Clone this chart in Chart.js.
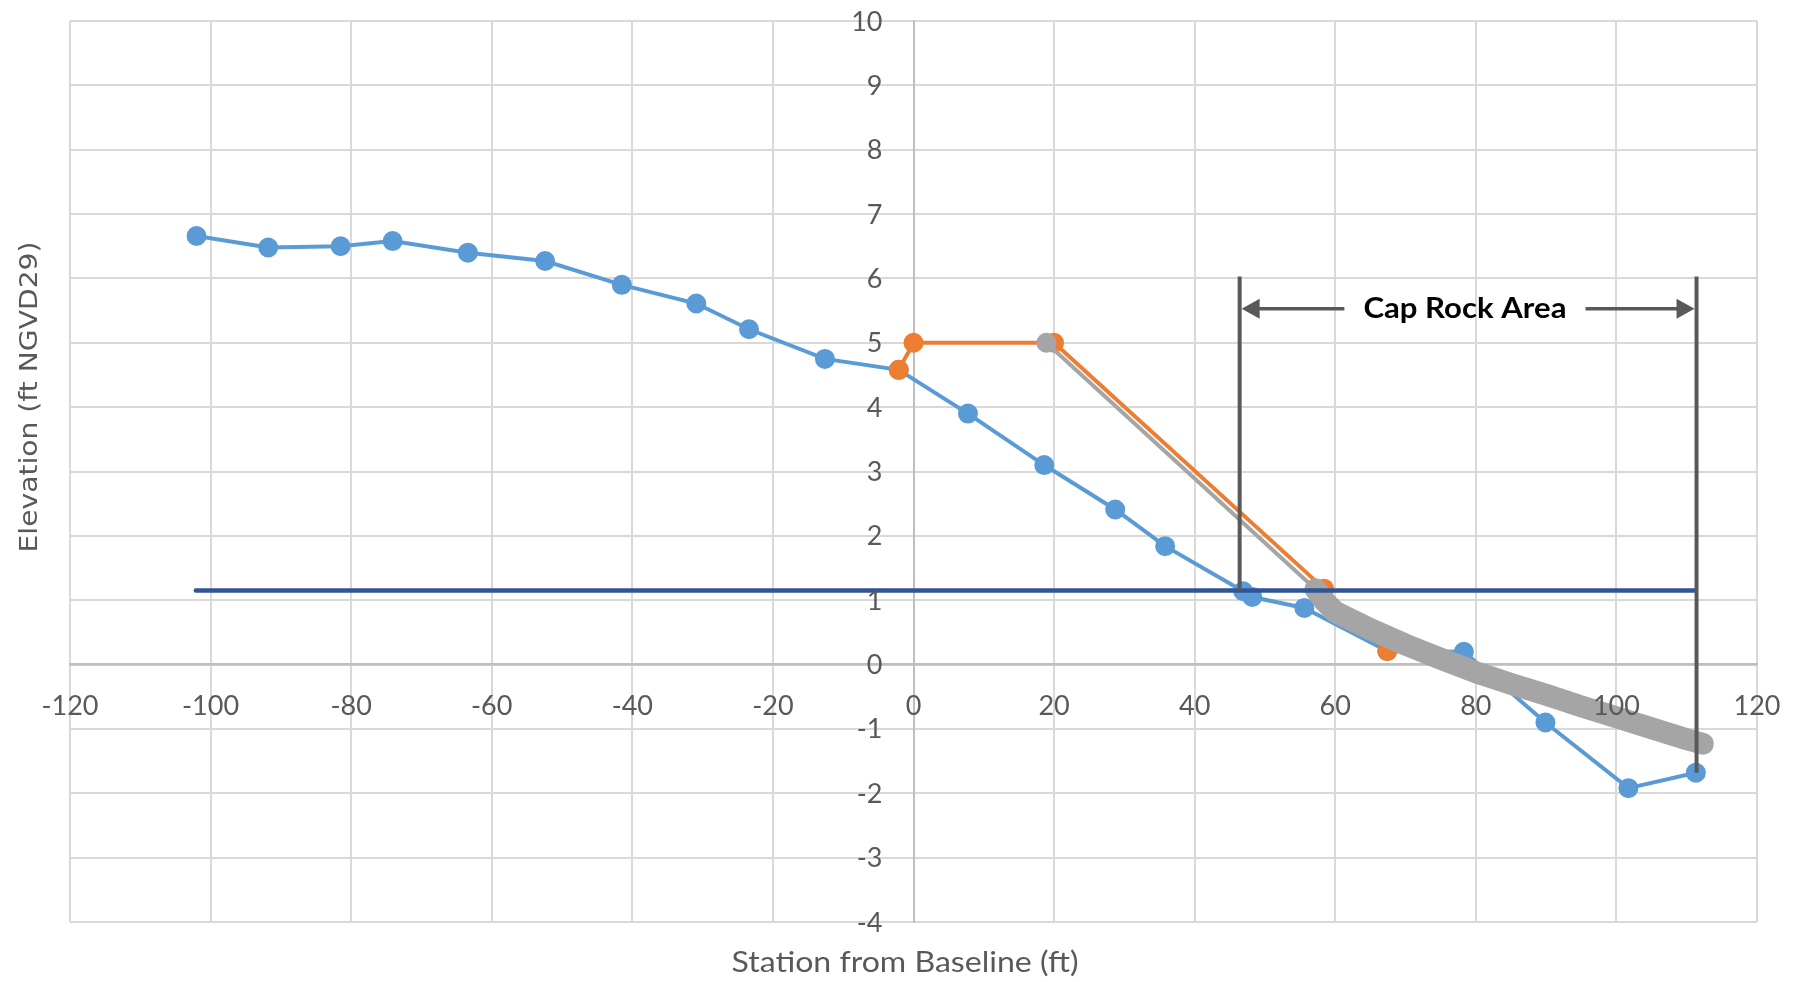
<!DOCTYPE html>
<html lang="en">

<head>
  <meta charset="UTF-8">
  <meta name="viewport" content="width=device-width, initial-scale=1.0">
  <script src="https://cdn.jsdelivr.net/npm/chart.js"></script>
  <title>Cap Rock Area profile</title>
  <style>
    html, body {
      margin: 0;
      padding: 0;
      background: #fff;
    }
    #wrap {
      width: 1803px;
      height: 982px;
    }
  </style>
</head>

<body>
  <div id="wrap"><canvas id="myChart"></canvas></div>

  <script>
    // surveyed profile (blue)
    const profileX = [-102.0, -91.8, -81.5, -74.1, -63.4, -52.4, -41.5, -30.9, -23.4, -12.6, -2.1, 7.75, 18.6,
      28.7, 35.8, 46.9, 48.2, 55.6, 67.4, 78.3, 89.9, 101.7, 111.3];
    const profileY = [6.66, 6.48, 6.50, 6.58, 6.40, 6.27, 5.90, 5.61, 5.21, 4.75, 4.58, 3.90, 3.10,
      2.41, 1.84, 1.14, 1.05, 0.88, 0.21, 0.20, -0.90, -1.92, -1.68];

    // design template (orange)
    const designX = [-2.1, 0, 20, 58.4, 67.4];
    const designY = [4.58, 5.0, 5.0, 1.18, 0.21];

    // equilibrium profile (gray): first leg is the thin slope, the rest is the thick curve
    const equilX = [18.9, 57.2, 58.5, 60, 65, 70, 75, 80, 85, 90, 95, 100, 105, 110, 112.3];
    const equilY = [5.0, 1.17, 0.98, 0.82, 0.55, 0.31, 0.09, -0.12, -0.30, -0.47, -0.65, -0.82, -0.99, -1.16, -1.23];

    // water level line (dark blue)
    const waterX = [-102.1, 111.3];
    const waterY = [1.15, 1.15];

    // cap rock annotation
    const capRockX = [46.4, 111.4];
    const capRockTop = 6.03;
    const capRockBottom = [1.15, -1.68];
    const capArrowY = 5.53;
    const capArrowInner = [61.3, 95.6];
    const capLabel = 'Cap Rock Area';

    const xTicks = [-120, -100, -80, -60, -40, -20, 0, 20, 40, 60, 80, 100, 120];
    const yTicks = [-4, -3, -2, -1, 0, 1, 2, 3, 4, 5, 6, 7, 8, 9, 10];

    const xTitle = 'Station from Baseline (ft)';
    const yTitle = 'Elevation (ft NGVD29)';

    const toPts = (xs, ys) => xs.map((x, i) => ({ x: x, y: ys[i] }));
    const equilPts = toPts(equilX, equilY);

    // draw text squeezed/stretched to a given width
    function fitText(ctx, text, cx, cy, width, rot) {
      const w = ctx.measureText(text).width;
      ctx.save();
      ctx.translate(cx, cy);
      if (rot) ctx.rotate(rot);
      ctx.scale(width / w, 1);
      ctx.fillText(text, 0, 0);
      ctx.restore();
    }

    const extras = {
      id: 'extras',
      afterDatasetsDraw(chart) {
        const ctx = chart.ctx;
        const xs = chart.scales.x;
        const ys = chart.scales.y;
        const x0 = xs.getPixelForValue(0);
        const y0 = ys.getPixelForValue(0);

        ctx.save();
        // tick labels, sitting on the crossing axes
        ctx.fillStyle = '#595959';
        ctx.font = '27px Lato';
        ctx.textBaseline = 'alphabetic';
        ctx.textAlign = 'center';
        xs.ticks.forEach(t => {
          ctx.fillText(String(t.value), xs.getPixelForValue(t.value), y0 + 50);
        });
        ctx.textAlign = 'right';
        ys.ticks.forEach(t => {
          ctx.fillText(String(t.value), x0 - 31, ys.getPixelForValue(t.value) + 9.5);
        });

        // cap rock bounds
        const top = ys.getPixelForValue(capRockTop);
        const ay = ys.getPixelForValue(capArrowY);
        ctx.strokeStyle = '#595959';
        ctx.fillStyle = '#595959';
        ctx.lineWidth = 4;
        capRockX.forEach((v, i) => {
          const px = xs.getPixelForValue(v);
          ctx.beginPath();
          ctx.moveTo(px, top);
          ctx.lineTo(px, ys.getPixelForValue(capRockBottom[i]));
          ctx.stroke();
        });

        // arrows
        const lx = xs.getPixelForValue(capRockX[0]) + 2;
        const rx = xs.getPixelForValue(capRockX[1]) - 2;
        const li = xs.getPixelForValue(capArrowInner[0]);
        const ri = xs.getPixelForValue(capArrowInner[1]);
        ctx.lineWidth = 3.5;
        ctx.beginPath();
        ctx.moveTo(li, ay); ctx.lineTo(lx + 14, ay);
        ctx.moveTo(ri, ay); ctx.lineTo(rx - 14, ay);
        ctx.stroke();
        ctx.beginPath();
        ctx.moveTo(lx, ay); ctx.lineTo(lx + 18, ay - 10); ctx.lineTo(lx + 18, ay + 10); ctx.closePath();
        ctx.moveTo(rx, ay); ctx.lineTo(rx - 18, ay - 10); ctx.lineTo(rx - 18, ay + 10); ctx.closePath();
        ctx.fill();

        ctx.fillStyle = '#000';
        ctx.font = 'bold 28px Lato';
        ctx.textAlign = 'center';
        fitText(ctx, capLabel, (li + ri) / 2, ay + 9, 203);

        // axis titles
        ctx.fillStyle = '#595959';
        ctx.font = '28px Lato';
        fitText(ctx, xTitle, 905, 972, 347);
        ctx.font = '25px "DejaVu Sans"';
        ctx.textBaseline = 'middle';
        fitText(ctx, yTitle, 30, 397, 311, -Math.PI / 2);
        ctx.restore();
      }
    };

    const ctx = document.getElementById('myChart').getContext('2d');
    const myChart = new Chart(ctx, {
      type: 'scatter',
      data: {
        datasets: [{
          label: 'Water level',
          data: toPts(waterX, waterY),
          showLine: true,
          borderColor: '#2F5597',
          borderWidth: 4.5,
          borderCapStyle: 'round',
          pointRadius: 0,
          order: 1
        }, {
          label: 'Equilibrium curve',
          data: equilPts.slice(1),
          showLine: true,
          borderColor: '#A5A5A5',
          borderWidth: 22,
          borderCapStyle: 'round',
          borderJoinStyle: 'round',
          pointRadius: 0,
          order: 2
        }, {
          label: 'Equilibrium slope',
          data: equilPts.slice(0, 2),
          showLine: true,
          borderColor: '#A5A5A5',
          backgroundColor: '#A5A5A5',
          borderWidth: 4,
          pointRadius: c => (c.dataIndex === 0 ? 9 : 0),
          pointBorderWidth: 2,
          order: 2
        }, {
          label: 'Design',
          data: toPts(designX, designY),
          showLine: true,
          borderColor: '#ED7D31',
          backgroundColor: '#ED7D31',
          borderWidth: 4,
          pointRadius: 9,
          pointBorderWidth: 2,
          order: 3
        }, {
          label: 'Profile',
          data: toPts(profileX, profileY),
          showLine: true,
          borderColor: '#5B9BD5',
          backgroundColor: '#5B9BD5',
          borderWidth: 4,
          pointRadius: 9,
          pointBorderWidth: 2,
          order: 4
        }]
      },
      options: {
        responsive: true,
        maintainAspectRatio: false,
        animation: false,
        layout: {
          padding: { left: 70, right: 46, top: 21, bottom: 60 }
        },
        plugins: {
          legend: { display: false },
          tooltip: { enabled: false }
        },
        scales: {
          x: {
            type: 'linear',
            position: { y: 0 },
            min: -120,
            max: 120,
            afterBuildTicks: s => { s.ticks = xTicks.map(v => ({ value: v })); },
            grid: { color: '#D9D9D9', lineWidth: 2, drawTicks: false },
            border: { color: '#BFBFBF', width: 2.5 },
            ticks: { display: false }
          },
          y: {
            type: 'linear',
            position: { x: 0 },
            min: -4,
            max: 10,
            afterBuildTicks: s => { s.ticks = yTicks.map(v => ({ value: v })); },
            grid: { color: '#D9D9D9', lineWidth: 2, drawTicks: false },
            border: { color: '#BFBFBF', width: 2 },
            ticks: { display: false }
          }
        }
      },
      plugins: [extras]
    });
  </script>
</body>

</html>
